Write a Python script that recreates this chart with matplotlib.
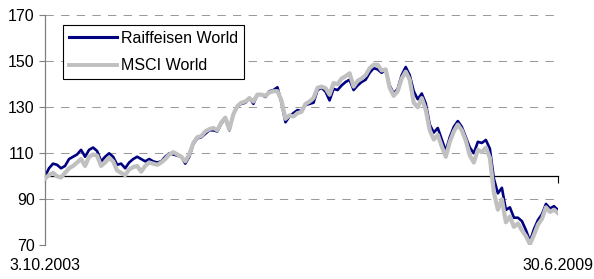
import matplotlib
matplotlib.use("Agg")
import matplotlib.pyplot as plt
import matplotlib.transforms as mtrans
import numpy as np

plt.rcParams['font.family'] = ['Liberation Sans', 'DejaVu Sans']

series_names = ["Raiffeisen World", "MSCI World"]
x_labels = ["3.10.2003", "30.6.2009"]
y_ticks = [70, 90, 110, 130, 150, 170]
base_level = 100

raiffeisen = [
    100, 103.5, 105.5, 105, 103.5, 104.5, 107.5, 108.5, 109.5, 111.5,
    108.5, 111.5, 112.5, 111, 106.5, 108.5, 110, 108.5, 105, 105.5,
    103.5, 106, 107.5, 108.5, 107.5, 106.5, 107.5, 106.5, 106, 106.5,
    108.5, 110, 109.5, 109, 108.5, 105.5, 108.5, 114, 116.5, 117,
    118.5, 120, 120, 119.5, 123, 125, 120, 127, 130.5, 131.5,
    132, 134, 131.5, 135.5, 135.5, 134.5, 137, 137.5, 138.7, 132,
    123.5, 126, 127.5, 128.8, 128.3, 131, 131.5, 132, 137.5, 138.5,
    136.8, 133, 138, 137.5, 139.5, 141, 142, 137.5, 139.5, 141,
    142, 145, 147, 146.5, 145, 146.5, 139.5, 136, 138, 144,
    147.5, 144, 137, 133.5, 136, 131.7, 122.5, 119, 121, 116,
    111, 117, 121.5, 124, 121.5, 117, 112.5, 110, 115, 114.5,
    115.8, 112, 99, 92.6, 95, 85.4, 86.5, 82, 82, 80.5,
    76.6, 71.8, 77, 81, 83.5, 88, 86, 87, 85.3,
]

msci = [
    99, 100.5, 101.5, 100, 99.5, 101.5, 103.5, 104.5, 106, 107.5,
    104.5, 108.5, 109.5, 109, 104.5, 106, 108, 106.5, 102.5, 101.5,
    100.5, 103, 104, 104.5, 102, 104.5, 106, 105.5, 105, 106,
    107.5, 109.5, 110.5, 109.5, 108.5, 106.5, 109.5, 114.5, 117, 117.5,
    119.5, 120.5, 121, 120, 123.5, 125.5, 120.5, 127, 130.5, 132,
    132.5, 134, 132.5, 135.5, 135.5, 135, 136.5, 137, 137, 133,
    125, 126.5, 126, 127.5, 128, 131.5, 132.5, 134, 138.5, 139,
    138.3, 135.5, 140.5, 140, 142.5, 143.5, 144.8, 139, 141.5, 142.5,
    144, 147, 148.5, 148.5, 146, 146.5, 138.5, 135, 137, 142.5,
    145.5, 142, 132, 130, 134, 129, 120, 116, 118, 113,
    108.5, 115, 119.5, 122.5, 120, 115.5, 109, 106, 111.5, 110.5,
    112.5, 108, 93, 85.5, 90, 80, 82.5, 78, 79.5, 76.5,
    74, 70.5, 74.5, 79, 81.5, 86.5, 84.5, 85.5, 84,
]

n = len(raiffeisen)
x = np.arange(n)
FS = 11.5

fig = plt.figure(figsize=(5.94, 2.79), dpi=100)
ax = fig.add_axes([45 / 594, 1 - 245.3 / 279, 513 / 594, 230 / 279])

ax.set_ylim(70, 170)
ax.set_xlim(0, n - 1)
ax.set_yticks(y_ticks)
ax.set_yticklabels([str(v) for v in y_ticks], fontsize=FS)

for v in y_ticks:
    ax.axhline(v, color='#9a9a9a', lw=0.75, linestyle=(0, (8, 7)), zorder=0.5)

ax.plot(x, raiffeisen, color='#000080', lw=1.9, label=series_names[0], zorder=2)
ax.plot(x, msci, color='#c0c0c0', lw=3.0, label=series_names[1], zorder=3)

ax.spines['bottom'].set_position(('data', base_level))
ax.spines['bottom'].set_color('#000000')
ax.spines['bottom'].set_linewidth(0.9)
ax.spines['top'].set_visible(False)
ax.spines['right'].set_visible(False)
ax.spines['left'].set_color('#808080')
ax.spines['left'].set_linewidth(0.9)
ax.spines['bottom'].set_zorder(1)

ax.set_xticks([0, n - 1])
ax.set_xticklabels(['', ''])
ax.tick_params(axis='x', direction='out', length=5, width=0.8, color='#000000')
ax.tick_params(axis='y', direction='out', length=4.5, width=0.8, color='#808080',
               pad=3, labelcolor='#000000')

trans = mtrans.blended_transform_factory(ax.transData, ax.transAxes)
ax.text(0, -0.09, x_labels[0], transform=trans, ha='center', va='center', fontsize=FS)
ax.text(n - 1, -0.09, x_labels[1], transform=trans, ha='center', va='center', fontsize=FS)

leg = ax.legend(loc='upper left', bbox_to_anchor=(18.3 / 513, 1 - 9.7 / 230),
                fontsize=FS, frameon=True, fancybox=False, edgecolor='#000000',
                framealpha=1, handlelength=3.0, handletextpad=0.25,
                borderpad=0.35, labelspacing=0.8, borderaxespad=0)
leg.get_frame().set_linewidth(0.8)
lines = leg.get_lines()
lines[0].set_linewidth(2.2)
lines[1].set_linewidth(2.8)
leg.set_zorder(5)

fig.savefig('out.png', dpi=100)
